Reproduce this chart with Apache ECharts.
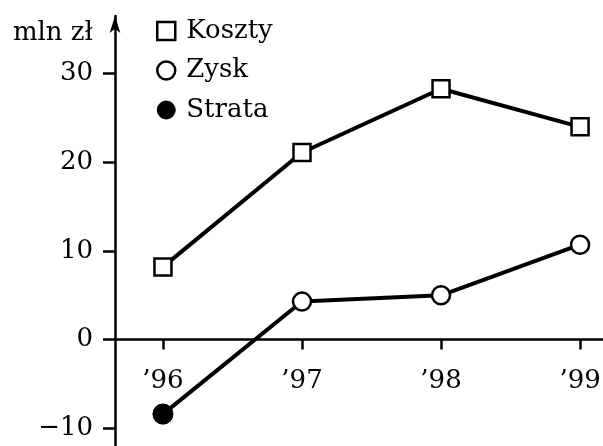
<!DOCTYPE html>
<html>
<head>
<meta charset="utf-8">
<script src="https://cdn.jsdelivr.net/npm/echarts@6/dist/echarts.min.js"></script>
<style>
html,body{margin:0;padding:0;background:#fff;}
#c{width:603px;height:446px;}
</style>
</head>
<body>
<div id="c"></div>
<script>
var years = ['\u201996', '\u201997', '\u201998', '\u201999'];
var koszty = [8.2, 21.1, 28.3, 24.0];
var zysk = [-8.4, 4.3, 5.0, 10.7];
var strata = [-8.4, null, null, null];
var yTicks = [-10, 0, 10, 20, 30];
var xPos = [0, 1, 2, 3];

function pairs(vals) {
  return vals.map(function (v, i) { return [xPos[i], v]; });
}

var FONT = 'DejaVu Serif';
var FS = 26;
var chart = echarts.init(document.getElementById('c'), null, { renderer: 'canvas' });
var lineW = 4;
var option = {
  animation: false,
  backgroundColor: '#fff',
  textStyle: { fontFamily: FONT, color: '#000' },
  grid: { left: 115, right: 0, top: 16, bottom: 0, containLabel: false, outerBoundsMode: 'none' },
  legend: {
    orient: 'vertical',
    left: 151,
    top: 13,
    itemWidth: 18,
    itemHeight: 18,
    itemGap: 13.5,
    selectedMode: false,
    textStyle: { fontFamily: FONT, fontSize: FS, lineHeight: 26, color: '#000', padding: [0, 0, 0, 6] },
    data: [
      { name: 'Koszty', icon: 'rect', itemStyle: { color: '#fff', borderColor: '#000', borderWidth: 2.5 } },
      { name: 'Zysk', icon: 'circle', itemStyle: { color: '#fff', borderColor: '#000', borderWidth: 2.5 } },
      { name: 'Strata', icon: 'circle', itemStyle: { color: '#000', borderColor: '#000', borderWidth: 1 } }
    ]
  },
  xAxis: {
    type: 'value',
    min: -0.345,
    max: 3.165,
    splitLine: { show: false },
    axisLine: { onZero: true, lineStyle: { color: '#000', width: 2.5 } },
    axisTick: { show: true, customValues: xPos, length: 10, lineStyle: { color: '#000', width: 2.5 } },
    axisLabel: {
      customValues: xPos,
      margin: -78,
      fontFamily: FONT, fontSize: FS, color: '#000',
      formatter: function (v) { return years[Math.round(v)]; }
    }
  },
  yAxis: {
    type: 'value',
    min: -12,
    max: 36.5,
    name: 'mln z\u0142',
    nameLocation: 'end',
    nameGap: -17,
    nameTextStyle: { fontFamily: FONT, fontSize: FS, color: '#000', align: 'right', verticalAlign: 'middle', padding: [0, 22, 0, 0] },
    splitLine: { show: false },
    axisLine: { onZero: false, symbol: ['none', 'arrow'], symbolSize: [8, 17], symbolOffset: [0, 0], lineStyle: { color: '#000', width: 2.5 } },
    axisTick: { show: true, customValues: yTicks, length: 12, lineStyle: { color: '#000', width: 2.5 } },
    axisLabel: {
      customValues: yTicks,
      margin: 22,
      fontFamily: FONT, fontSize: FS, color: '#000',
      formatter: function (v) { return v < 0 ? '\u2212' + Math.abs(v) : String(v); }
    }
  },
  series: [
    {
      name: 'Koszty', type: 'line', data: pairs(koszty),
      symbol: 'rect', symbolSize: 17,
      lineStyle: { color: '#000', width: lineW },
      itemStyle: { color: '#fff', borderColor: '#000', borderWidth: 2.5 },
      z: 3
    },
    {
      name: 'Zysk', type: 'line', data: pairs(zysk),
      symbol: 'circle', symbolSize: 18,
      lineStyle: { color: '#000', width: lineW },
      itemStyle: { color: '#fff', borderColor: '#000', borderWidth: 2.5 },
      z: 3
    },
    {
      name: 'Strata', type: 'line', data: pairs(strata),
      symbol: 'circle', symbolSize: 21,
      lineStyle: { width: 0 },
      itemStyle: { color: '#000', borderColor: '#000', borderWidth: 0 },
      z: 4
    }
  ]
};
chart.setOption(option);
</script>
</body>
</html>
